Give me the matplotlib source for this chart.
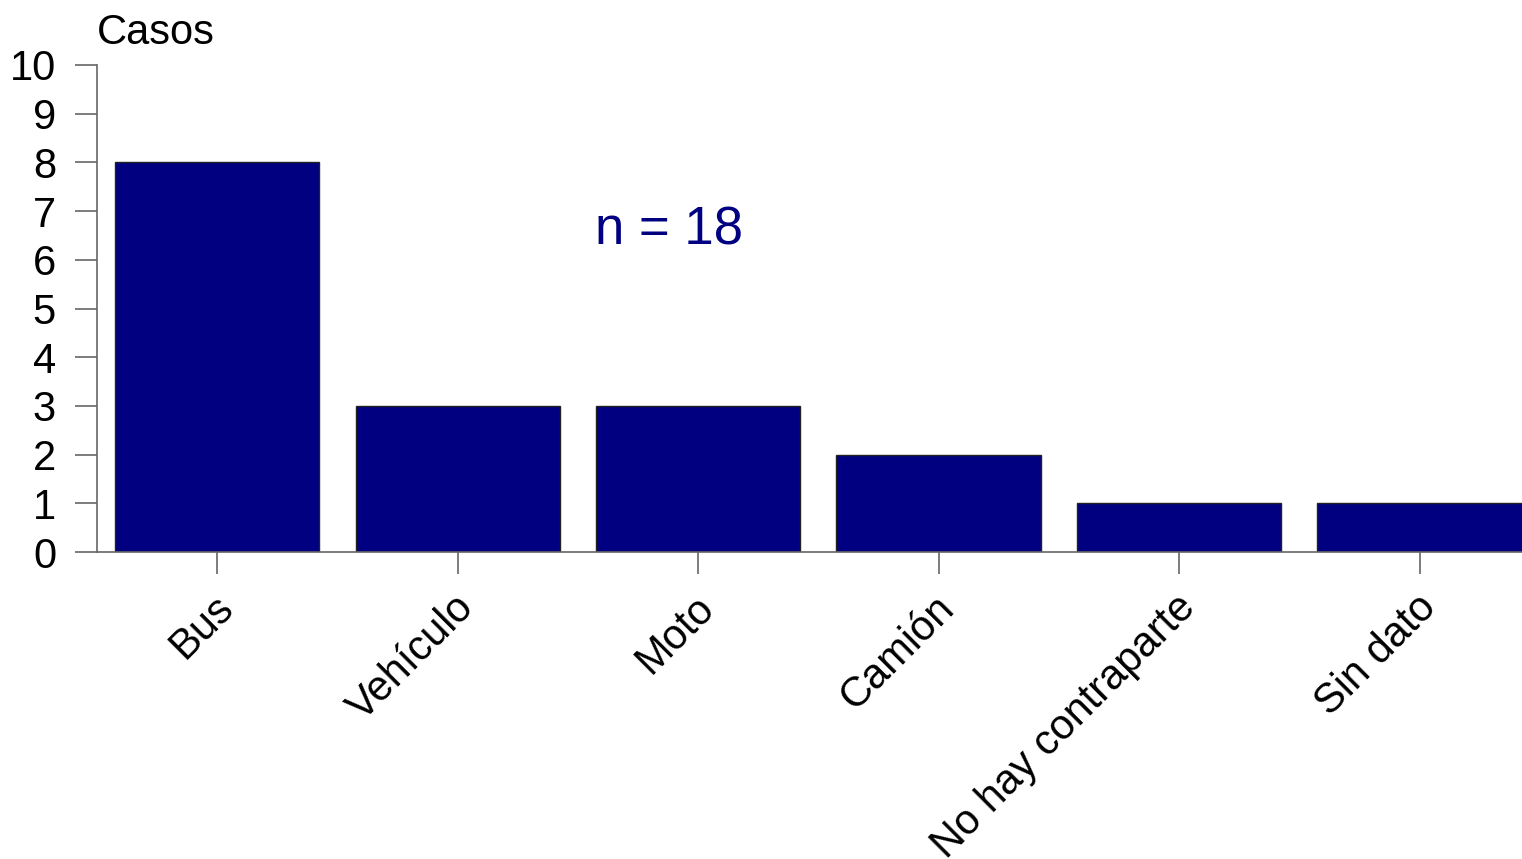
import matplotlib
matplotlib.use('Agg')
import matplotlib.pyplot as plt
import matplotlib.transforms as mtransforms

# chart data
categorias = ["Bus", "Vehículo", "Moto", "Camión", "No hay contraparte", "Sin dato"]
casos = [8, 3, 3, 2, 1, 1]
n_total = 18
y_ticks = list(range(0, 11))

plt.rcParams['font.family'] = ['Liberation Sans', 'DejaVu Sans']

fig = plt.figure(figsize=(15.22, 8.59), dpi=100)
ax = fig.add_axes([97 / 1522, 307 / 859, 1425 / 1522, 487 / 859])

x = list(range(len(categorias)))
ax.bar(x, casos, width=0.85, color='#000080', edgecolor='#222222', linewidth=1)

ax.set_xlim(-0.5, 5.426)
ax.set_ylim(0, 10)
ax.set_yticks(y_ticks)
ax.set_xticks(x)
labels = ax.set_xticklabels(categorias, rotation=45, ha='right', va='center',
                            rotation_mode='anchor')

for side in ['top', 'right']:
    ax.spines[side].set_visible(False)
for side in ['left', 'bottom']:
    ax.spines[side].set_color('#666666')
    ax.spines[side].set_linewidth(1.2)

ax.tick_params(axis='both', length=15.5, width=1.2, color='#666666', labelsize=30)
ax.tick_params(axis='y', pad=14)
ax.tick_params(axis='x', pad=23)

# nudge the rotated labels a little right and up
shift = mtransforms.ScaledTranslation(10 / 100, 4 / 100, fig.dpi_scale_trans)
for lab in labels:
    lab.set_transform(lab.get_transform() + shift)

# y axis title above the axis
fig.text(97 / 1522, 1 - 33 / 859, "Casos", fontsize=30, ha='left', va='center')

# total annotation
ax.text(1.88, 6.6, f"n = {n_total}", fontsize=38, color='#000080', ha='center', va='center')

fig.savefig('out.png', dpi=100)
